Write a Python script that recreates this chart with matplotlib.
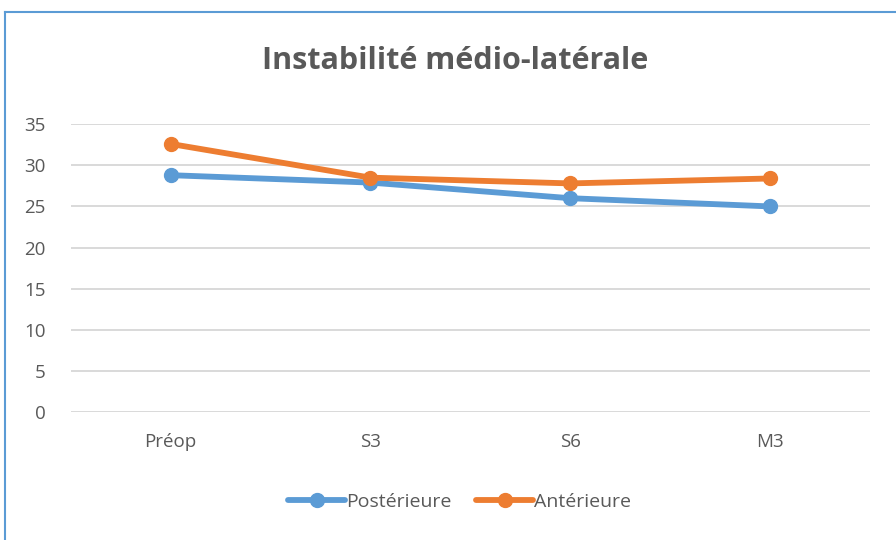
import matplotlib
matplotlib.use("Agg")
import matplotlib.pyplot as plt
from matplotlib.lines import Line2D

categories = ["Préop", "S3", "S6", "M3"]
posterieure = [28.8, 27.9, 26.0, 25.0]
anterieure = [32.6, 28.5, 27.8, 28.4]
yticks = [0, 5, 10, 15, 20, 25, 30, 35]

BLUE = "#5B9BD5"
ORANGE = "#ED7D31"
TEXT = "#595959"
GRID = "#D9D9D9"

plt.rcParams["font.family"] = ["Open Sans", "DejaVu Sans"]

fig = plt.figure(figsize=(8.96, 5.4), dpi=100)
ax = fig.add_axes([0.079, 0.237, 0.892, 0.533])

x = range(len(categories))
ax.plot(x, posterieure, color=BLUE, lw=4.2, marker="o", ms=10,
        solid_capstyle="round", label="Postérieure", zorder=3)
ax.plot(x, anterieure, color=ORANGE, lw=4.2, marker="o", ms=10,
        solid_capstyle="round", label="Antérieure", zorder=3)

ax.set_xlim(-0.5, 3.5)
ax.set_ylim(0, 35)
ax.set_yticks(yticks)
ax.set_xticks(list(x))
ax.set_xticklabels(categories)
ax.grid(axis="y", color=GRID, lw=1.4)
ax.set_axisbelow(True)
for s in ax.spines.values():
    s.set_visible(False)
ax.tick_params(length=0, labelsize=13.5, colors=TEXT)
ax.tick_params(axis="y", pad=18)
ax.tick_params(axis="x", pad=15)

fig.text(0.508, 0.887, "Instabilité médio-latérale", ha="center", va="center",
         fontsize=22, fontweight="bold", color=TEXT)

leg = fig.legend(loc="center", bbox_to_anchor=(0.513, 0.07), ncol=2,
                 frameon=False, fontsize=14, handlelength=2.9,
                 columnspacing=1.3, handletextpad=0.05, labelcolor=TEXT)

# blue frame on top and left edges
fig.add_artist(Line2D([0.006, 1.0], [0.978, 0.978], color=BLUE, lw=1.5,
                      transform=fig.transFigure))
fig.add_artist(Line2D([0.006, 0.006], [0.0, 0.978], color=BLUE, lw=1.5,
                      transform=fig.transFigure))

fig.savefig("out.png", dpi=100)
